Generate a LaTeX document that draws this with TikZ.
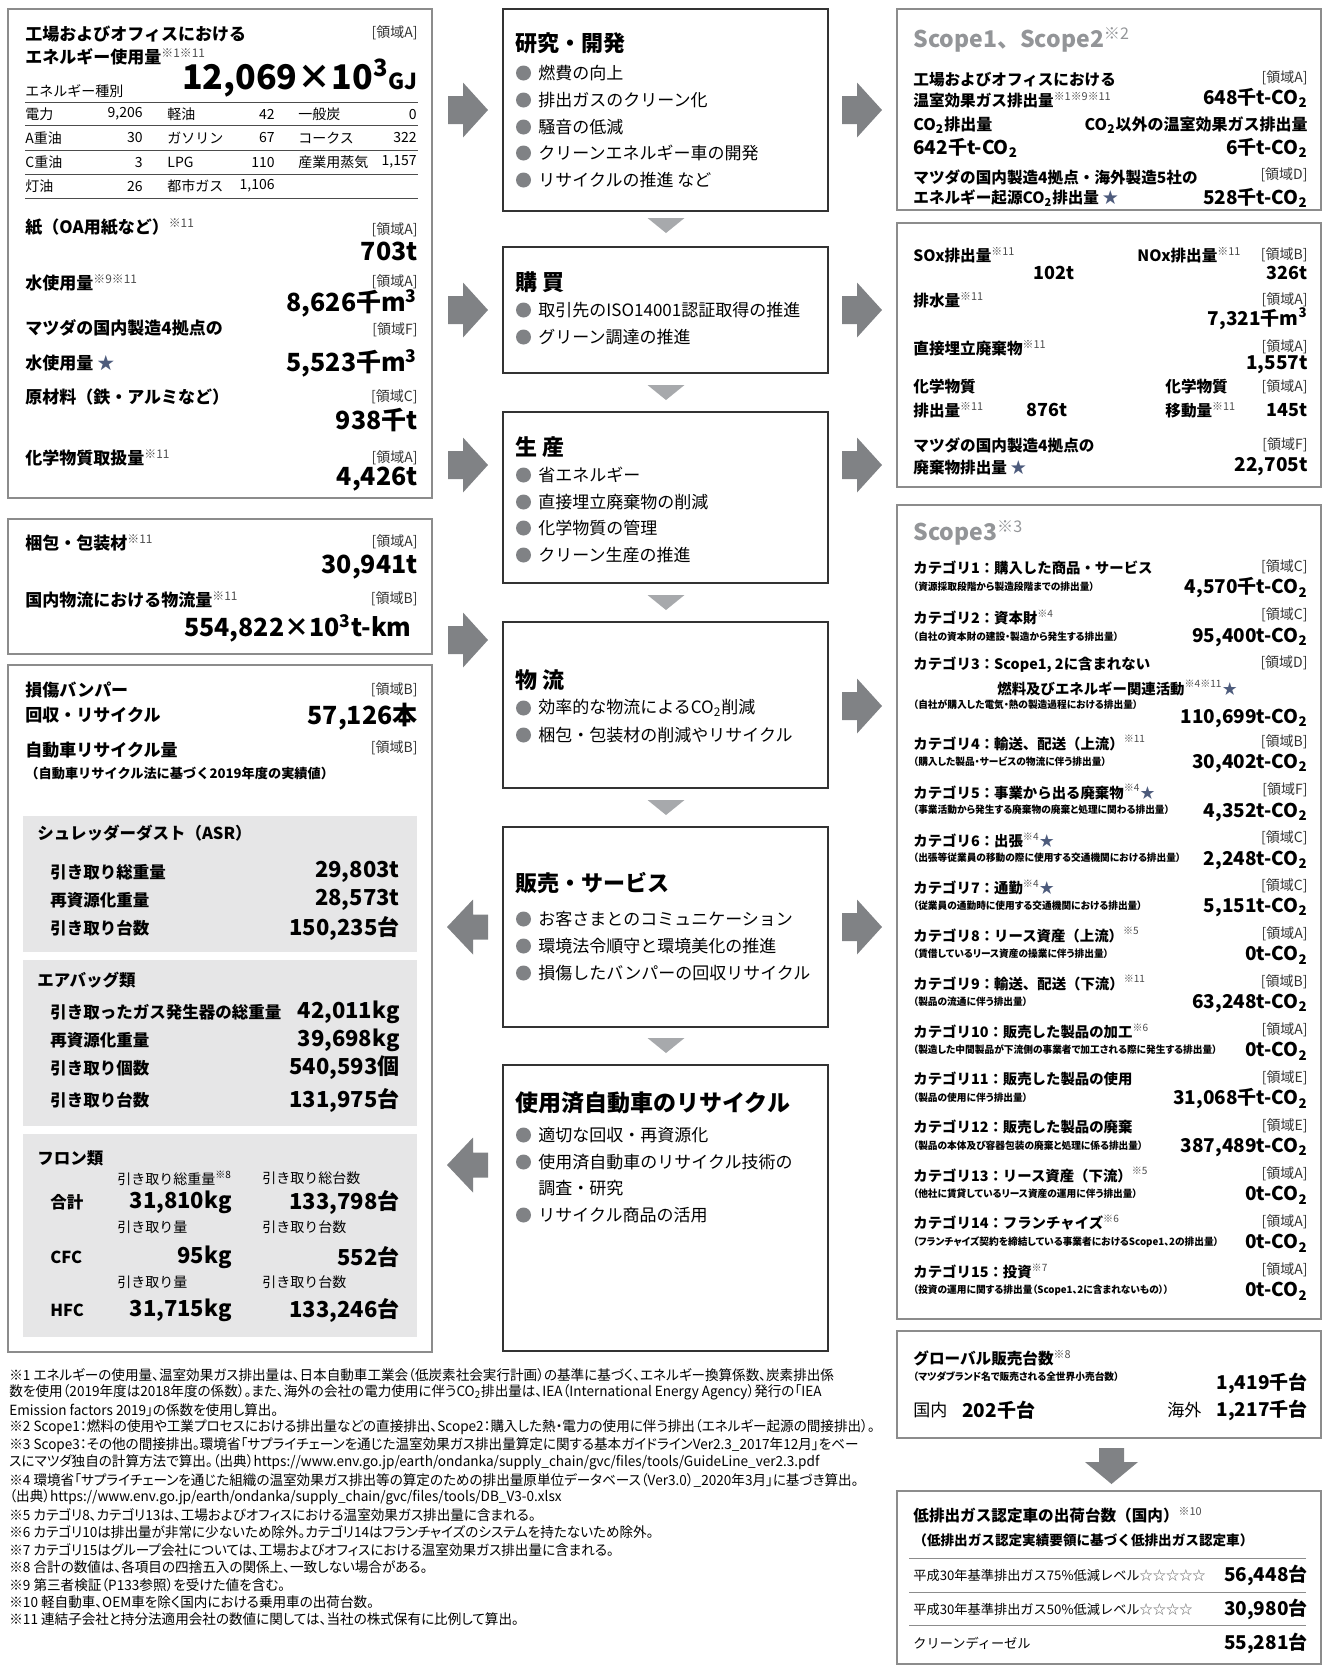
\documentclass[tikz,border=0pt]{standalone}
\usepackage{fontspec}
\setmainfont{Noto Sans CJK JP}
\newfontfamily\condjp[FakeStretch=0.97,RawFeature=+palt]{Noto Sans CJK JP}
\usetikzlibrary{positioning}

\definecolor{framegray}{HTML}{8C8C8C}
\definecolor{arrowgray}{HTML}{808285}
\definecolor{trigray}{HTML}{A7A9AC}
\definecolor{panelgray}{HTML}{E6E6E7}
\definecolor{scopegray}{HTML}{939598}
\definecolor{stargray}{HTML}{4D5B7C}
\definecolor{bulletgray}{HTML}{808285}

% fonts (1px = 0.5pt)
\newcommand\hdf{\bfseries\fontsize{8.5}{10}\selectfont}
\newcommand\rhf{\bfseries\fontsize{7.8}{9}\selectfont}
\newcommand\arf{\fontsize{7}{8}\selectfont}
\newcommand\bvf{\bfseries\fontsize{12.5}{14}\selectfont}
\newcommand\hgf{\bfseries\fontsize{17}{18}\selectfont}
\newcommand\rvf{\bfseries\fontsize{9.5}{11}\selectfont}
\newcommand\tbf{\fontsize{7}{8}\selectfont}
\newcommand\mtf{\bfseries\fontsize{11}{12}\selectfont}
\newcommand\mbf{\fontsize{8.5}{10}\selectfont}
\newcommand\pnf{\bfseries\fontsize{8.25}{10}\selectfont}
\newcommand\pvf{\bfseries\fontsize{11}{12}\selectfont}
\newcommand\ctf{\bfseries\fontsize{7.2}{8}\selectfont}
\newcommand\cdf{\condjp\bfseries\fontsize{5}{6}\selectfont}
\newcommand\sgf{\bfseries\fontsize{11.5}{13}\selectfont}
\newcommand\ftf{\condjp\fontsize{7}{8}\selectfont}
\newcommand\smf{\fontsize{7}{8}\selectfont}

\newcommand\nt[1]{\textsuperscript{\mdseries\color{black!70}#1}}
\newcommand\cotwo{CO\textsubscript{2}}
\newcommand\bstar{{\color{stargray}★}}

% block arrows
\newcommand\toright[2]{\fill[arrowgray] (#1,#2-14) -- (#1+15,#2-14) -- (#1+15,#2-27.5) -- (#1+40,#2) -- (#1+15,#2+27.5) -- (#1+15,#2+14) -- (#1,#2+14) -- cycle;}
\newcommand\toleft[2]{\fill[arrowgray] (#1,#2-12.5) -- (#1-15,#2-12.5) -- (#1-15,#2-27.5) -- (#1-41,#2) -- (#1-15,#2+27.5) -- (#1-15,#2+12.5) -- (#1,#2+12.5) -- cycle;}
\newcommand\todown[1]{\fill[trigray] (647.5,#1) -- (684.5,#1) -- (666,#1+15) -- cycle;}

\begin{document}
\begin{tikzpicture}[x=0.5pt,y=-0.5pt,
  every node/.style={inner sep=0pt},
  lhead/.style={anchor=west,font=\hdf},
  rhead/.style={anchor=west,font=\rhf},
  area/.style={anchor=east,font=\arf,text=black!80},
  bigval/.style={anchor=east,font=\bvf},
  rval/.style={anchor=east,font=\rvf},
  tlab/.style={anchor=west,font=\tbf},
  tnum/.style={anchor=east,font=\tbf},
  mtitle/.style={anchor=west,font=\mtf},
  mitem/.style={anchor=west,font=\mbf},
  plab/.style={anchor=west,font=\pnf},
  pval/.style={anchor=east,font=\pvf},
  ctitle/.style={anchor=west,font=\ctf},
  cdesc/.style={anchor=west,font=\cdf},
  stitle/.style={anchor=west,font=\sgf,text=scopegray},
  fnote/.style={anchor=west,font=\ftf},
  sidebox/.style={draw=framegray,line width=0.6pt},
  midbox/.style={draw=black!80,line width=0.6pt},
  panel/.style={fill=panelgray},
  rule/.style={draw=black!70,line width=0.4pt}]
\useasboundingbox (0,0) rectangle (1323,1667);

%% left column: inputs
\draw[sidebox] (8,9) rectangle (432,498);
\node[lhead] (energy1) at (25,34) {工場およびオフィスにおける};
\node[area] (energyA) at (418,33) {[領域A]};
\node[lhead] (energy2) at (25,57) {エネルギー使用量\nt{※1※11}};
\node[anchor=east,font=\hgf] (energyv) at (418,78) {12,069×10\textsuperscript{3}{\fontsize{11}{12}\selectfont GJ}};
\node[tlab] (energyk) at (25,91) {エネルギー種別};
\foreach \y in {102,125,150,174,198}
  \draw[rule] (25,\y) -- (418,\y);
\foreach \y/\a/\b/\c/\d/\e/\f [count=\i] in {114/電力/{9,206}/軽油/42/一般炭/0, 138/A重油/30/ガソリン/67/コークス/322, 162/C重油/3/LPG/110/産業用蒸気/{1,157}, 186/灯油/26/都市ガス/{1,106}/{}/{}} {
  \node[tlab] (ta\i) at (25,\y) {\a};
  \node[tnum] (tb\i) at (143,\y) {\b};
  \node[tlab] (tc\i) at (167,\y) {\c};
  \node[tnum] (td\i) at (275,\y) {\d};
  \node[tlab] (te\i) at (298,\y) {\e};
  \node[tnum] (tf\i) at (417,\y) {\f};
}
\node[lhead] (paper) at (25,227) {紙（OA用紙など）\nt{※11}};
\node[area] (paperA) at (418,230) {[領域A]};
\node[bigval] (paperv) at (418,251) {703t};
\node[lhead] (water) at (25,283) {水使用量\nt{※9※11}};
\node[area] (waterA) at (418,282) {[領域A]};
\node[bigval] (waterv) at (418,303) {8,626千m\textsuperscript{3}};
\node[lhead] (mwater1) at (25,328) {マツダの国内製造4拠点の};
\node[area] (mwaterF) at (418,330) {[領域F]};
\node[lhead] (mwater2) at (25,363) {水使用量 \bstar};
\node[bigval] (mwaterv) at (418,363) {5,523千m\textsuperscript{3}};
\node[lhead] (raw) at (25,397) {原材料（鉄・アルミなど）};
\node[area] (rawC) at (418,397) {[領域C]};
\node[bigval] (rawv) at (418,420) {938千t};
\node[lhead] (chem) at (25,458) {化学物質取扱量\nt{※11}};
\node[area] (chemA) at (418,458) {[領域A]};
\node[bigval] (chemv) at (418,479) {4,426t};

\draw[sidebox] (8,519) rectangle (432,654);
\node[lhead] (pack) at (25,543) {梱包・包装材\nt{※11}};
\node[area] (packA) at (418,542) {[領域A]};
\node[bigval] (packv) at (418,567) {30,941t};
\node[lhead] (logi) at (25,600) {国内物流における物流量\nt{※11}};
\node[area] (logiB) at (418,599) {[領域B]};
\node[bigval] (logiv) at (412,628) {554,822×10\textsuperscript{3}t-km};

%% left column: recycling
\draw[sidebox] (8,665) rectangle (432,1352);
\node[lhead] (bump1) at (25,690) {損傷バンパー};
\node[area] (bumpB) at (418,690) {[領域B]};
\node[lhead] (bump2) at (25,715) {回収・リサイクル};
\node[bigval] (bumpv) at (418,717) {57,126本};
\node[lhead] (car1) at (25,750) {自動車リサイクル量};
\node[area] (carB) at (418,748) {[領域B]};
\node[anchor=west,font=\bfseries\fontsize{6.6}{8}\selectfont] (car2) at (25,773) {（自動車リサイクル法に基づく2019年度の実績値）};

\fill[panel] (23,816) rectangle (417,952);
\node[plab] (asr) at (37,833) {シュレッダーダスト（ASR）};
\node[plab] (asr1) at (50,872) {引き取り総重量};
\node[pval] (asr1v) at (400,872) {29,803t};
\node[plab] (asr2) at (50,900) {再資源化重量};
\node[pval] (asr2v) at (400,900) {28,573t};
\node[plab] (asr3) at (50,928) {引き取り台数};
\node[pval] (asr3v) at (400,928) {150,235台};

\fill[panel] (23,960) rectangle (417,1126);
\node[plab] (bag) at (37,980) {エアバッグ類};
\node[plab] (bag1) at (50,1012) {引き取ったガス発生器の総重量};
\node[pval] (bag1v) at (400,1012) {42,011kg};
\node[plab] (bag2) at (50,1040) {再資源化重量};
\node[pval] (bag2v) at (400,1040) {39,698kg};
\node[plab] (bag3) at (50,1068) {引き取り個数};
\node[pval] (bag3v) at (400,1068) {540,593個};
\node[plab] (bag4) at (50,1100) {引き取り台数};
\node[pval] (bag4v) at (400,1100) {131,975台};

\fill[panel] (23,1134) rectangle (417,1337);
\node[plab] (fron) at (37,1158) {フロン類};
\node[anchor=west,font=\smf] (fronw1) at (117,1178) {引き取り総重量\textsuperscript{※8}};
\node[anchor=west,font=\smf] (fronn1) at (262,1178) {引き取り総台数};
\node[plab] (fron1) at (50,1202) {合計};
\node[pval] (fron1w) at (232,1202) {31,810kg};
\node[pval] (fron1n) at (400,1202) {133,798台};
\node[anchor=west,font=\smf] (fronw2) at (117,1227) {引き取り量};
\node[anchor=west,font=\smf] (fronn2) at (262,1227) {引き取り台数};
\node[plab] (fron2) at (50,1257) {CFC};
\node[pval] (fron2w) at (232,1257) {95kg};
\node[pval] (fron2n) at (400,1257) {552台};
\node[anchor=west,font=\smf] (fronw3) at (117,1282) {引き取り量};
\node[anchor=west,font=\smf] (fronn3) at (262,1282) {引き取り台数};
\node[plab] (fron3) at (50,1310) {HFC};
\node[pval] (fron3w) at (232,1310) {31,715kg};
\node[pval] (fron3n) at (400,1310) {133,246台};

%% middle column: value chain
\draw[midbox] (503,9) rectangle (828,211);
\node[mtitle] (rd) at (515,43) {研究・開発};
\foreach \y/\t [count=\i] in {73/燃費の向上, 100/排出ガスのクリーン化, 127/騒音の低減, 153/クリーンエネルギー車の開発, 180/リサイクルの推進 など} {
  \fill[bulletgray] (523.5,\y) circle (7.5);
  \node[mitem] (rd\i) at (538,\y) {\t};
}
\todown{218}
\draw[midbox] (503,247) rectangle (828,373);
\node[mtitle] (buy) at (515,282) {購 買};
\foreach \y/\t [count=\i] in {310/取引先のISO14001認証取得の推進, 337/グリーン調達の推進} {
  \fill[bulletgray] (523.5,\y) circle (7.5);
  \node[mitem] (buy\i) at (538,\y) {\t};
}
\todown{385}
\draw[midbox] (503,412) rectangle (828,583);
\node[mtitle] (prod) at (515,447) {生 産};
\foreach \y/\t [count=\i] in {475/省エネルギー, 502/直接埋立廃棄物の削減, 528/化学物質の管理, 555/クリーン生産の推進} {
  \fill[bulletgray] (523.5,\y) circle (7.5);
  \node[mitem] (prod\i) at (538,\y) {\t};
}
\todown{595}
\draw[midbox] (503,622) rectangle (828,788);
\node[mtitle] (dist) at (515,680) {物 流};
\foreach \y/\t [count=\i] in {708/効率的な物流による\cotwo{}削減, 735/梱包・包装材の削減やリサイクル} {
  \fill[bulletgray] (523.5,\y) circle (7.5);
  \node[mitem] (dist\i) at (538,\y) {\t};
}
\todown{800}
\draw[midbox] (503,827) rectangle (828,1027);
\node[mtitle] (sale) at (515,883) {販売・サービス};
\foreach \y/\t [count=\i] in {919/お客さまとのコミュニケーション, 946/環境法令順守と環境美化の推進, 973/損傷したバンパーの回収リサイクル} {
  \fill[bulletgray] (523.5,\y) circle (7.5);
  \node[mitem] (sale\i) at (538,\y) {\t};
}
\todown{1038}
\draw[midbox] (503,1065) rectangle (828,1351);
\node[mtitle,font=\bfseries\fontsize{11.5}{13}\selectfont] (elv) at (515,1103) {使用済自動車のリサイクル};
\foreach \y/\t [count=\i] in {1135/適切な回収・再資源化, 1162/使用済自動車のリサイクル技術の, 1215/リサイクル商品の活用} {
  \fill[bulletgray] (523.5,\y) circle (7.5);
  \node[mitem] (elv\i) at (538,\y) {\t};
}
\node[mitem] (elv2b) at (538,1188) {調査・研究};

%% block arrows
\toright{448}{110}
\toright{448}{310}
\toright{448}{465}
\toright{448}{640}
\toleft{488}{927}
\toleft{488}{1165}
\toright{842}{110}
\toright{842}{310}
\toright{842}{465}
\toright{842}{706}
\toright{842}{927}

%% right column: outputs
\draw[sidebox] (897,9) rectangle (1321,210);
\node[stitle] (s12) at (913,40) {Scope1、Scope2\textsuperscript{\mdseries ※2}};
\node[rhead] (ghg1) at (913,80) {工場およびオフィスにおける};
\node[area] (ghgA) at (1308,78) {[領域A]};
\node[rhead] (ghg2) at (913,100) {温室効果ガス排出量\nt{※1※9※11}};
\node[rval] (ghgv) at (1308,98) {648千t-\cotwo};
\node[rhead,font=\bfseries\fontsize{8}{9}\selectfont] (co2a) at (913,125) {\cotwo{}排出量};
\node[anchor=east,font=\bfseries\fontsize{8}{9}\selectfont] (co2b) at (1308,125) {\cotwo{}以外の温室効果ガス排出量};
\node[rval,anchor=west] (co2av) at (913,148) {642千t-\cotwo};
\node[rval] (co2bv) at (1308,148) {6千t-\cotwo};
\node[rhead] (mco1) at (913,177) {マツダの国内製造4拠点・海外製造5社の};
\node[area] (mcoD) at (1308,175) {[領域D]};
\node[rhead] (mco2) at (913,198) {エネルギー起源\cotwo{}排出量 \bstar};
\node[rval] (mcov) at (1308,198) {528千t-\cotwo};

\draw[sidebox] (897,223) rectangle (1321,487);
\node[rhead] (sox) at (913,255) {SOx排出量\nt{※11}};
\node[rval,font=\bfseries\fontsize{9}{10}\selectfont] (soxv) at (1075,273) {102t};
\node[rhead] (nox) at (1137,255) {NOx排出量\nt{※11}};
\node[area] (noxB) at (1308,255) {[領域B]};
\node[rval,font=\bfseries\fontsize{9}{10}\selectfont] (noxv) at (1308,273) {326t};
\node[rhead] (drain) at (913,300) {排水量\nt{※11}};
\node[area] (drainA) at (1308,300) {[領域A]};
\node[rval] (drainv) at (1308,319) {7,321千m\textsuperscript{3}};
\node[rhead] (land) at (913,348) {直接埋立廃棄物\nt{※11}};
\node[area] (landA) at (1308,347) {[領域A]};
\node[rval] (landv) at (1308,365) {1,557t};
\node[rhead] (cem1) at (913,387) {化学物質};
\node[rhead] (cem2) at (913,410) {排出量\nt{※11}};
\node[rval,font=\bfseries\fontsize{9}{10}\selectfont] (cemv) at (1068,410) {876t};
\node[rhead] (ctr1) at (1165,387) {化学物質};
\node[area] (ctrA) at (1308,387) {[領域A]};
\node[rhead] (ctr2) at (1165,410) {移動量\nt{※11}};
\node[rval,font=\bfseries\fontsize{9}{10}\selectfont] (ctrv) at (1308,410) {145t};
\node[rhead] (mwst1) at (913,445) {マツダの国内製造4拠点の};
\node[area] (mwstF) at (1308,445) {[領域F]};
\node[rhead] (mwst2) at (913,468) {廃棄物排出量 \bstar};
\node[rval] (mwstv) at (1308,467) {22,705t};

%% Scope3
\draw[sidebox] (897,505) rectangle (1321,1319);
\node[stitle] (s3) at (913,533) {Scope3\textsuperscript{\mdseries ※3}};
\node[ctitle] (c1t) at (913,568) {カテゴリ1：購入した商品・サービス};
\node[area] (c1a) at (1308,567) {[領域C]};
\node[cdesc] (c1d) at (913,587) {（資源採取段階から製造段階までの排出量）};
\node[rval] (c1v) at (1308,588) {4,570千t-\cotwo};
\node[ctitle] (c2t) at (913,617) {カテゴリ2：資本財\nt{※4}};
\node[area] (c2a) at (1308,615) {[領域C]};
\node[cdesc] (c2d) at (913,637) {（自社の資本財の建設・製造から発生する排出量）};
\node[rval] (c2v) at (1308,637) {95,400t-\cotwo};
\node[ctitle] (c3t) at (913,665) {カテゴリ3：Scope1, 2に含まれない};
\node[area] (c3a) at (1308,663) {[領域D]};
\node[ctitle] (c3u) at (997,688) {燃料及びエネルギー関連活動\nt{※4※11}\bstar};
\node[cdesc] (c3d) at (913,705) {（自社が購入した電気・熱の製造過程における排出量）};
\node[rval] (c3v) at (1308,718) {110,699t-\cotwo};
\node[ctitle] (c4t) at (913,743) {カテゴリ4：輸送、配送（上流）\nt{※11}};
\node[area] (c4a) at (1308,742) {[領域B]};
\node[cdesc] (c4d) at (913,762) {（購入した製品・サービスの物流に伴う排出量）};
\node[rval] (c4v) at (1308,763) {30,402t-\cotwo};
\node[ctitle] (c5t) at (913,792) {カテゴリ5：事業から出る廃棄物\nt{※4}\bstar};
\node[area] (c5a) at (1308,790) {[領域F]};
\node[cdesc] (c5d) at (913,810) {（事業活動から発生する廃棄物の廃棄と処理に関わる排出量）};
\node[rval] (c5v) at (1308,812) {4,352t-\cotwo};
\node[ctitle] (c6t) at (913,840) {カテゴリ6：出張\nt{※4}\bstar};
\node[area] (c6a) at (1308,838) {[領域C]};
\node[cdesc] (c6d) at (913,858) {（出張等従業員の移動の際に使用する交通機関における排出量）};
\node[rval] (c6v) at (1308,860) {2,248t-\cotwo};
\node[ctitle] (c7t) at (913,887) {カテゴリ7：通勤\nt{※4}\bstar};
\node[area] (c7a) at (1308,886) {[領域C]};
\node[cdesc] (c7d) at (913,906) {（従業員の通勤時に使用する交通機関における排出量）};
\node[rval] (c7v) at (1308,907) {5,151t-\cotwo};
\node[ctitle] (c8t) at (913,935) {カテゴリ8：リース資産（上流）\nt{※5}};
\node[area] (c8a) at (1308,934) {[領域A]};
\node[cdesc] (c8d) at (913,954) {（賃借しているリース資産の操業に伴う排出量）};
\node[rval] (c8v) at (1308,955) {0t-\cotwo};
\node[ctitle] (c9t) at (913,983) {カテゴリ9：輸送、配送（下流）\nt{※11}};
\node[area] (c9a) at (1308,982) {[領域B]};
\node[cdesc] (c9d) at (913,1002) {（製品の流通に伴う排出量）};
\node[rval] (c9v) at (1308,1003) {63,248t-\cotwo};
\node[ctitle] (c10t) at (913,1031) {カテゴリ10：販売した製品の加工\nt{※6}};
\node[area] (c10a) at (1308,1030) {[領域A]};
\node[cdesc] (c10d) at (913,1050) {（製造した中間製品が下流側の事業者で加工される際に発生する排出量）};
\node[rval] (c10v) at (1308,1051) {0t-\cotwo};
\node[ctitle] (c11t) at (913,1079) {カテゴリ11：販売した製品の使用};
\node[area] (c11a) at (1308,1078) {[領域E]};
\node[cdesc] (c11d) at (913,1098) {（製品の使用に伴う排出量）};
\node[rval] (c11v) at (1308,1099) {31,068千t-\cotwo};
\node[ctitle] (c12t) at (913,1127) {カテゴリ12：販売した製品の廃棄};
\node[area] (c12a) at (1308,1126) {[領域E]};
\node[cdesc] (c12d) at (913,1146) {（製品の本体及び容器包装の廃棄と処理に係る排出量）};
\node[rval] (c12v) at (1308,1147) {387,489t-\cotwo};
\node[ctitle] (c13t) at (913,1175) {カテゴリ13：リース資産（下流）\nt{※5}};
\node[area] (c13a) at (1308,1174) {[領域A]};
\node[cdesc] (c13d) at (913,1194) {（他社に賃貸しているリース資産の運用に伴う排出量）};
\node[rval] (c13v) at (1308,1195) {0t-\cotwo};
\node[ctitle] (c14t) at (913,1223) {カテゴリ14：フランチャイズ\nt{※6}};
\node[area] (c14a) at (1308,1222) {[領域A]};
\node[cdesc] (c14d) at (913,1242) {（フランチャイズ契約を締結している事業者におけるScope1、2の排出量）};
\node[rval] (c14v) at (1308,1243) {0t-\cotwo};
\node[ctitle] (c15t) at (913,1271) {カテゴリ15：投資\nt{※7}};
\node[area] (c15a) at (1308,1270) {[領域A]};
\node[cdesc] (c15d) at (913,1290) {（投資の運用に関する排出量（Scope1、2に含まれないもの））};
\node[rval] (c15v) at (1308,1291) {0t-\cotwo};

%% sales
\draw[sidebox] (897,1331) rectangle (1321,1438);
\node[rhead] (gsale) at (913,1358) {グローバル販売台数\nt{※8}};
\node[cdesc] (gsaled) at (913,1377) {（マツダブランド名で販売される全世界小売台数）};
\node[rval] (gsalev) at (1308,1383) {1,419千台};
\node[anchor=west,font=\mbf] (dom) at (913,1410) {国内};
\node[rval,anchor=west] (domv) at (962,1410) {202千台};
\node[anchor=west,font=\mbf] (ovs) at (1167,1410) {海外};
\node[rval] (ovsv) at (1308,1410) {1,217千台};
\fill[arrowgray] (1099,1448) -- (1124,1448) -- (1124,1462) -- (1138,1462) -- (1111.5,1484) -- (1085,1462) -- (1099,1462) -- cycle;
\draw[sidebox] (897,1491) rectangle (1321,1664);
\node[rhead] (lev) at (913,1515) {低排出ガス認定車の出荷台数（国内）\nt{※10}};
\node[anchor=west,font=\bfseries\fontsize{6.8}{8}\selectfont] (levd) at (913,1540) {（低排出ガス認定実績要領に基づく低排出ガス認定車）};
\foreach \y in {1558,1592,1625}
  \draw[draw=framegray,line width=0.4pt] (909,\y) -- (1306,\y);
\node[anchor=west,font=\fontsize{6.6}{8}\selectfont] (lev1) at (913,1575) {平成30年基準排出ガス75\%低減レベル{\color{black!60}☆☆☆☆☆}};
\node[rval] (lev1v) at (1308,1575) {56,448台};
\node[anchor=west,font=\fontsize{6.6}{8}\selectfont] (lev2) at (913,1609) {平成30年基準排出ガス50\%低減レベル{\color{black!60}☆☆☆☆}};
\node[rval] (lev2v) at (1308,1609) {30,980台};
\node[anchor=west,font=\fontsize{6.6}{8}\selectfont] (lev3) at (913,1643) {クリーンディーゼル};
\node[rval] (lev3v) at (1308,1643) {55,281台};

%% footnotes
\node[fnote] (fn1a) at (9,1375) {※1 エネルギーの使用量、温室効果ガス排出量は、日本自動車工業会（低炭素社会実行計画）の基準に基づく、エネルギー換算係数、炭素排出係};
\node[fnote] (fn1b) at (9,1392) {数を使用（2019年度は2018年度の係数）。また、海外の会社の電力使用に伴う\cotwo{}排出量は、IEA（International Energy Agency）発行の「IEA};
\node[fnote] (fn1c) at (9,1410) {Emission factors 2019」の係数を使用し算出。};
\node[fnote] (fn2) at (9,1427) {※2 Scope1：燃料の使用や工業プロセスにおける排出量などの直接排出、Scope2：購入した熱・電力の使用に伴う排出（エネルギー起源の間接排出）。};
\node[fnote] (fn3a) at (9,1445) {※3 Scope3：その他の間接排出。環境省「サプライチェーンを通じた温室効果ガス排出量算定に関する基本ガイドラインVer2.3\_2017年12月」をベー};
\node[fnote] (fn3b) at (9,1462) {スにマツダ独自の計算方法で算出。（出典）https://www.env.go.jp/earth/ondanka/supply\_chain/gvc/files/tools/GuideLine\_ver2.3.pdf};
\node[fnote] (fn4a) at (9,1480) {※4 環境省「サプライチェーンを通じた組織の温室効果ガス排出等の算定のための排出量原単位データベース（Ver3.0）\_2020年3月」に基づき算出。};
\node[fnote] (fn4b) at (9,1497) {（出典）https://www.env.go.jp/earth/ondanka/supply\_chain/gvc/files/tools/DB\_V3-0.xlsx};
\node[fnote] (fn5) at (9,1515) {※5 カテゴリ8、カテゴリ13は、工場およびオフィスにおける温室効果ガス排出量に含まれる。};
\node[fnote] (fn6) at (9,1532) {※6 カテゴリ10は排出量が非常に少ないため除外。カテゴリ14はフランチャイズのシステムを持たないため除外。};
\node[fnote] (fn7) at (9,1550) {※7 カテゴリ15はグループ会社については、工場およびオフィスにおける温室効果ガス排出量に含まれる。};
\node[fnote] (fn8) at (9,1567) {※8 合計の数値は、各項目の四捨五入の関係上、一致しない場合がある。};
\node[fnote] (fn9) at (9,1585) {※9 第三者検証（P133参照）を受けた値を含む。};
\node[fnote] (fn10) at (9,1602) {※10 軽自動車、OEM車を除く国内における乗用車の出荷台数。};
\node[fnote] (fn11) at (9,1619) {※11 連結子会社と持分法適用会社の数値に関しては、当社の株式保有に比例して算出。};
\end{tikzpicture}
\end{document}
